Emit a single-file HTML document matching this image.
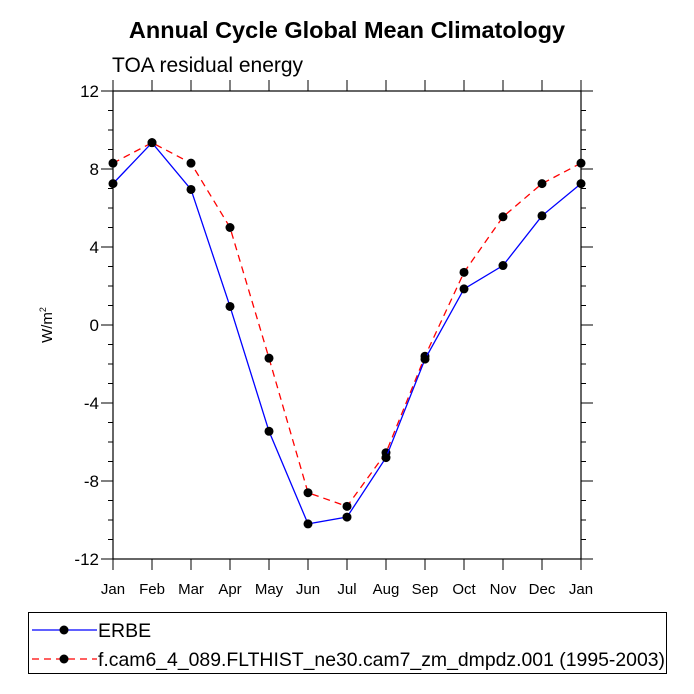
<!DOCTYPE html>
<html><head><meta charset="utf-8"><style>
body{margin:0;background:#fff}
svg{display:block;font-family:"Liberation Sans",Helvetica,Arial,sans-serif}
</style></head><body>
<svg id="c" width="694" height="694" viewBox="0 0 694 694">
<text x="347" y="38" text-anchor="middle" font-size="23.5" font-weight="bold">Annual Cycle Global Mean Climatology</text>
<text x="112" y="72" font-size="21">TOA residual energy</text>
<text transform="translate(52,325) rotate(-90)" text-anchor="middle" font-size="15">W/m<tspan font-size="9" dy="-6">2</tspan></text>
<g id="axes"></g>
<g id="series"></g>
<g>
<rect x="28.5" y="612.5" width="638" height="61" fill="none" stroke="#000"/>
<g>
<line x1="32" y1="630" x2="97" y2="630" stroke="#0000ff" stroke-width="1.3"/>
<circle cx="64" cy="630" r="4.5"/>
<text x="98" y="637" font-size="19.5">ERBE</text></g>
<g>
<line x1="32" y1="659" x2="97" y2="659" stroke="#ff0000" stroke-width="1.3" stroke-dasharray="7,5"/>
<circle cx="64" cy="659" r="4.5"/>
<text x="98" y="666" font-size="19.5" textLength="567" lengthAdjust="spacingAndGlyphs">f.cam6_4_089.FLTHIST_ne30.cam7_zm_dmpdz.001 (1995-2003)</text></g>
</g>
</svg>
<script>
const months=["Jan","Feb","Mar","Apr","May","Jun","Jul","Aug","Sep","Oct","Nov","Dec","Jan"];
const erbe=[7.25,9.35,6.95,0.95,-5.45,-10.2,-9.85,-6.8,-1.75,1.85,3.05,5.6,7.25];
const model=[8.3,9.35,8.3,5.0,-1.7,-8.6,-9.3,-6.55,-1.6,2.7,5.55,7.25,8.3];
const yTicks=[12,8,4,0,-4,-8,-12];
const L=113,R=581,T=91,B=559,yMin=-12,yMax=12;
const xs=i=>L+i*(R-L)/(months.length-1);
const ys=v=>B-(v-yMin)/(yMax-yMin)*(B-T);
const NS="http://www.w3.org/2000/svg";
function mk(t,a,p){const e=document.createElementNS(NS,t);for(const k in a)e.setAttribute(k,a[k]);p.appendChild(e);return e;}
const ax=document.getElementById('axes');
const fr=mk('rect',{x:L,y:T,width:R-L,height:B-T,fill:'none',stroke:'#000','stroke-width':1.2},ax);


for(let v=yMin;v<=yMax;v++){const maj=v%4===0,len=maj?12:5,y=ys(v);
mk('line',{x1:L-len,y1:y,x2:L,y2:y,stroke:'#000'},ax);
mk('line',{x1:R,y1:y,x2:R+len,y2:y,stroke:'#000'},ax);}
yTicks.forEach(v=>{const t=mk('text',{x:L-14,y:ys(v)+6,'text-anchor':'end','font-size':17},ax);t.textContent=v;

});
months.forEach((m,i)=>{const x=xs(i);
mk('line',{x1:x,y1:B,x2:x,y2:B+11,stroke:'#000'},ax);
mk('line',{x1:x,y1:T-11,x2:x,y2:T,stroke:'#000'},ax);
const t=mk('text',{x:x,y:B+35,'text-anchor':'middle','font-size':15},ax);t.textContent=m;

});
const sg=document.getElementById('series');
function draw(d,col,dash,name){const g=mk('g',{},sg);


mk('polyline',{points:d.map((v,i)=>xs(i)+','+ys(v)).join(' '),fill:'none',stroke:col,'stroke-width':1.3,'stroke-dasharray':dash},g);
d.forEach((v,i)=>{const c=mk('circle',{cx:xs(i),cy:ys(v),r:4.5},g);

});}
draw(model,'#ff0000','7,5','model-series');
draw(erbe,'#0000ff','none','erbe-series');
</script>
</body></html>
